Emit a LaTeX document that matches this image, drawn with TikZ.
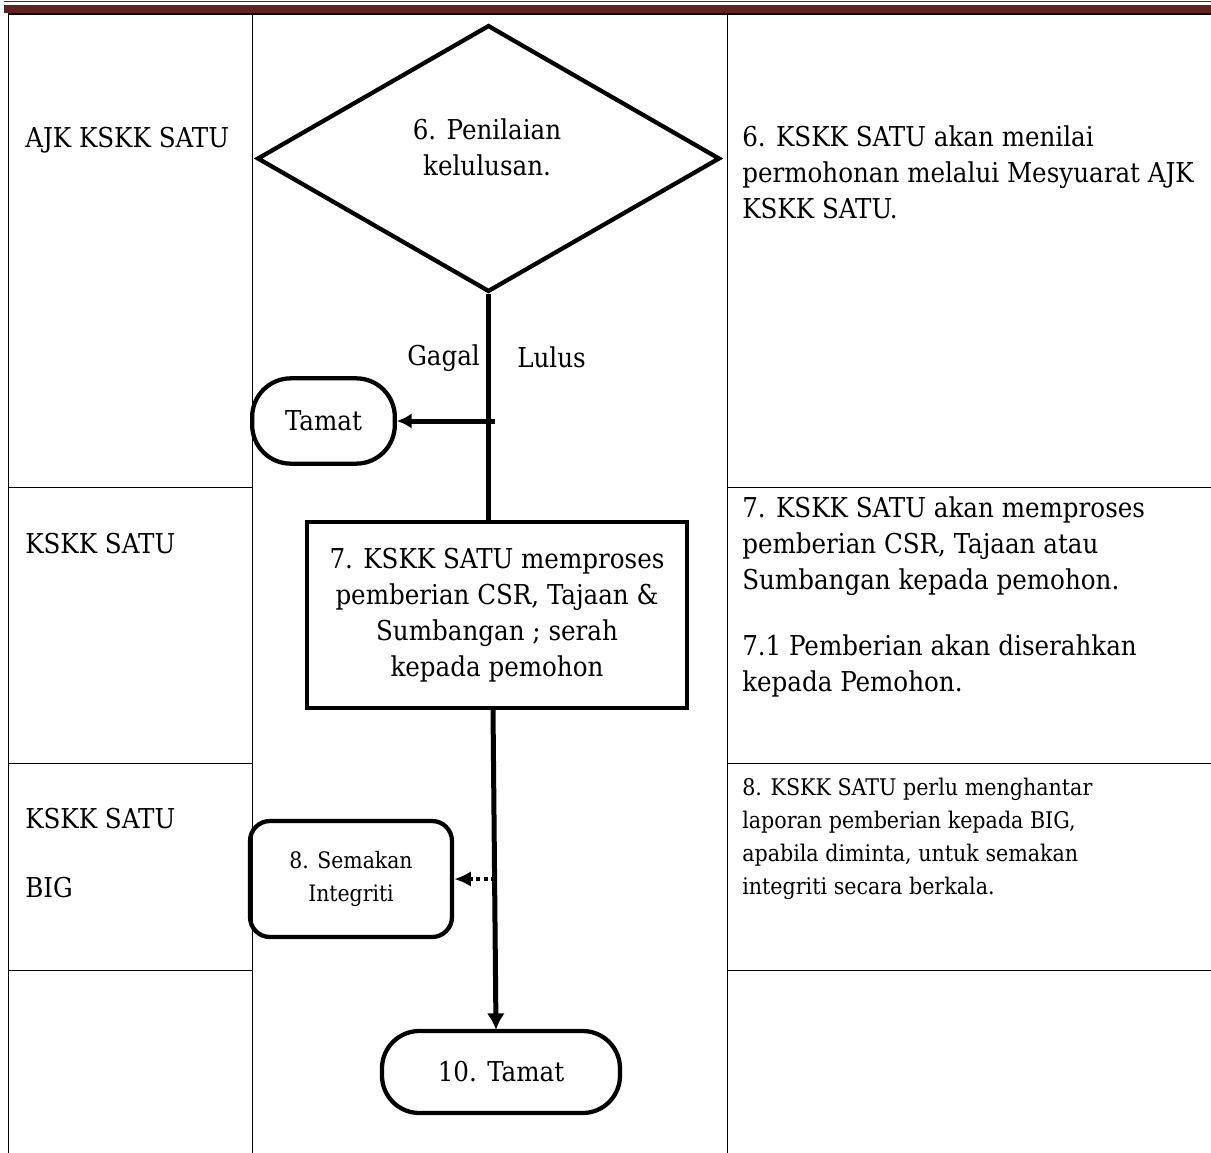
\documentclass[tikz,border=0pt]{standalone}
\usepackage{fontspec}
\IfFontExistsTF{DejaVu Serif Condensed}{\setmainfont{DejaVu Serif Condensed}}{\setmainfont{DejaVu Serif}[FakeStretch=0.9]}
\usetikzlibrary{shapes.geometric,arrows.meta,calc}
\definecolor{hdr}{RGB}{98,36,35}
\newcommand\myBody{\fontsize{20.5}{27}\selectfont}
\newcommand\mySmall{\fontsize{17.2}{24.75}\selectfont}
\newcommand\myTiny{\fontsize{17}{24.75}\selectfont}
\begin{document}
\begin{tikzpicture}[x=0.75pt,y=-0.75pt,
  gridline/.style={line width=1.1pt},
  flownode/.style={draw, line width=3.2pt, inner sep=0pt, align=center, font=\myBody},
  conn/.style={line width=3.75pt},
  lbl/.style={inner sep=0pt, font=\myBody, align=left},
  desc/.style={inner sep=0pt, font=\myBody, align=left},
  desc3/.style={inner sep=0pt, font=\mySmall, align=left}]
\useasboundingbox (0,0) rectangle (1211,1153);
% table
\draw[gridline] (8,14.2) -- (1211,14.2);
\draw[gridline] (8.7,14) -- (8.7,1153);
\draw[gridline] (252.3,14) -- (252.3,1153);
\draw[gridline] (727.3,14) -- (727.3,1153);
\foreach \yy in {487.5,763.3,970.5}{
  \draw[gridline] (8,\yy) -- (252.3,\yy);
  \draw[gridline] (727.3,\yy) -- (1211,\yy);
}
% header band
\fill[hdr] (4,1) rectangle (1211,2.4);
\fill[hdr] (4,4.7) rectangle (1211,13.3);
% left labels
\node[lbl, anchor=base west] (l1) at (25,147) {AJK KSKK SATU};
\node[lbl, anchor=base west] (l2) at (25,553) {KSKK SATU};
\node[lbl, anchor=base west] (l3) at (25,828) {KSKK SATU};
\node[lbl, anchor=base west] (l4) at (25,897) {BIG};
% right descriptions (base anchor = last line)
\node[desc, anchor=base west] (d1) at (742,218) {6. KSKK SATU akan menilai\\permohonan melalui Mesyuarat AJK\\KSKK SATU.};
\node[desc, anchor=base west] (d2) at (742,691) {7. KSKK SATU akan memproses\\pemberian CSR, Tajaan atau\\Sumbangan kepada pemohon.\\[22.5pt]7.1 Pemberian akan diserahkan\\kepada Pemohon.};
\node[desc3, anchor=base west] (d3) at (742,894) {8. KSKK SATU perlu menghantar\\laporan pemberian kepada BIG,\\apabila diminta, untuk semakan\\integriti secara berkala.};
% flow nodes
\node[flownode, diamond, minimum width=347pt, minimum height=200pt] (dia) at (488.5,158.5) {};
\node[lbl, align=center, anchor=base] (diat) at (487,175) {6. Penilaian\\kelulusan.};
\node[flownode, rectangle, rounded corners=29pt, minimum width=107pt, minimum height=64pt] (tamat) at (323.5,421) {Tamat};
\node[flownode, rectangle, minimum width=285pt, minimum height=139.5pt] (box) at (497,615) {7. KSKK SATU memproses\\pemberian CSR, Tajaan \&\\Sumbangan ; serah\\kepada pemohon};
\node[flownode, rectangle, rounded corners=15pt, minimum width=151.5pt, minimum height=87pt, font=\myTiny] (sem) at (351,879) {8. Semakan\\Integriti};
\node[flownode, rectangle, rounded corners=28pt, minimum width=178.5pt, minimum height=61.5pt] (end) at (501,1072) {10. Tamat};
% labels
\node[lbl, anchor=base west] (gagal) at (407,365) {Gagal};
\node[lbl, anchor=base west] (lulus) at (517,367) {Lulus};
% connectors
\draw[conn] (dia.south) -- (dia.south |- box.north);
\coordinate (g) at (495,421);
\draw[conn, -{Latex[length=11pt,width=11.5pt]}] (g) -- (tamat.east);
\coordinate (b1) at (493,708);
\coordinate (b2) at (496,1030);
\draw[conn, -{Latex[length=12.5pt,width=13.5pt]}] (b1) -- (b2);
\coordinate (s1) at (495,879);
\draw[line width=3pt, dash pattern=on 3pt off 2.5pt, -{Latex[length=12.5pt,width=11.5pt]}] (s1) -- (sem.east);
\end{tikzpicture}
\end{document}
